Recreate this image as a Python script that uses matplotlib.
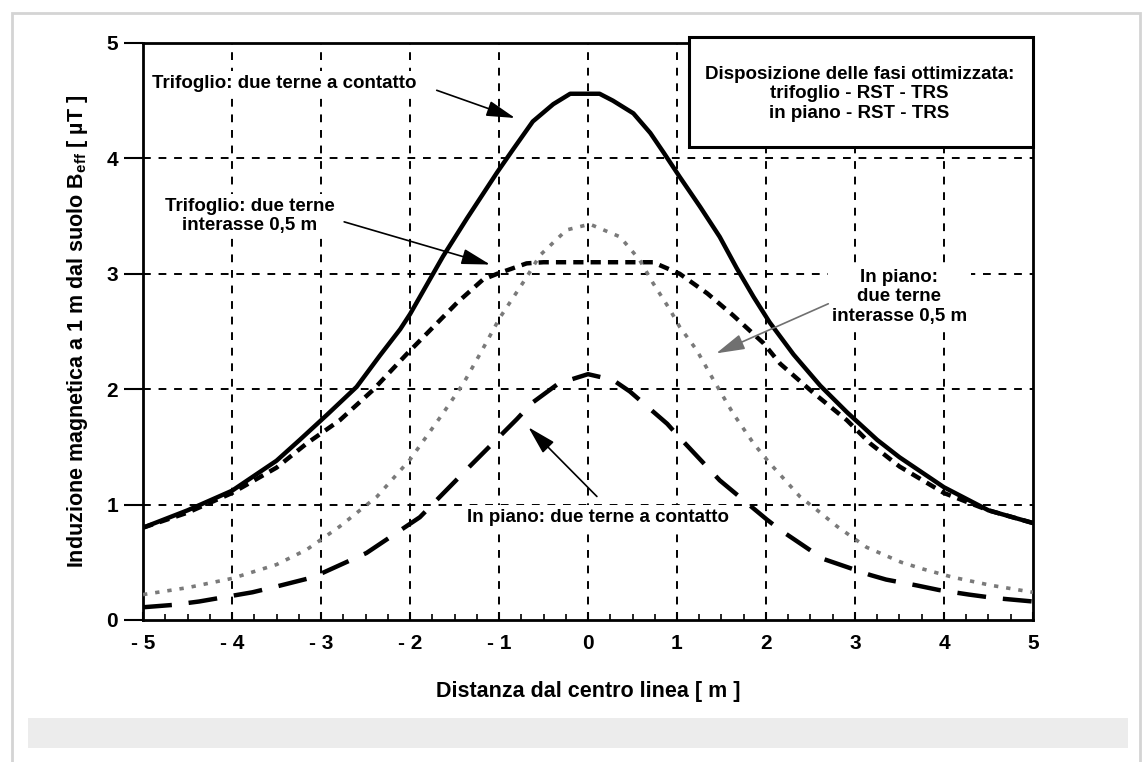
import numpy as np
import matplotlib
matplotlib.use('Agg')
import matplotlib.pyplot as plt
from matplotlib.patches import Rectangle

plt.rcParams['font.family'] = ['Liberation Sans', 'DejaVu Sans']
plt.rcParams['mathtext.fontset'] = 'custom'
plt.rcParams['mathtext.bf'] = 'Liberation Sans:bold'
plt.rcParams['mathtext.rm'] = 'Liberation Sans'

# Trifoglio: due terne a contatto (solid)
x_tri_cont = [-5, -4.5, -4, -3.5, -3.24, -2.93, -2.6, -2.34, -2.11, -2.0, -1.63, -1.36,
              -1.02, -0.84, -0.62, -0.39, -0.2, 0.13, 0.28, 0.51, 0.7, 0.85, 1.03, 1.26,
              1.48, 1.67, 1.86, 2.04, 2.31, 2.61, 2.91, 3.25, 3.5, 4, 4.5, 5]
y_tri_cont = [0.80, 0.95, 1.12, 1.38, 1.56, 1.78, 2.02, 2.29, 2.52, 2.65, 3.15, 3.48,
              3.88, 4.08, 4.32, 4.47, 4.56, 4.56, 4.50, 4.39, 4.22, 4.05, 3.84, 3.58,
              3.32, 3.05, 2.80, 2.58, 2.30, 2.03, 1.80, 1.56, 1.41, 1.15, 0.95, 0.84]

# Trifoglio: due terne interasse 0,5 m (short dashes)
x_tri_int = [-5, -4.5, -4, -3.5, -3.16, -2.79, -2.42, -2.03, -1.47, -1.18, -1.02, -0.91,
             -0.69, -0.5, 0, 0.5, 0.73, 1.03, 1.34, 1.63, 1.97, 2.16, 2.53, 2.91, 3.17,
             3.5, 4, 4.5, 5]
y_tri_int = [0.80, 0.93, 1.10, 1.32, 1.53, 1.73, 1.99, 2.31, 2.75, 2.95, 3.00, 3.03,
             3.09, 3.10, 3.10, 3.10, 3.10, 3.00, 2.83, 2.64, 2.40, 2.22, 1.97, 1.73, 1.53,
             1.33, 1.10, 0.95, 0.84]

# In piano: due terne interasse 0,5 m (grey dotted)
x_pia_int = [-5, -4.5, -4, -3.5, -3.16, -2.79, -2.37, -2.0, -1.63, -1.4, -1.21, -0.99,
             -0.69, -0.54, -0.35, -0.24, 0.02, 0.36, 0.58, 0.73, 0.92, 1.03, 1.22, 1.41,
             1.63, 1.86, 2.04, 2.24, 2.38, 2.61, 2.8, 3.13, 3.52, 3.77, 4.1, 4.53, 5]
y_pia_int = [0.22, 0.28, 0.36, 0.48, 0.61, 0.81, 1.07, 1.39, 1.79, 2.05, 2.31, 2.62,
             2.97, 3.16, 3.30, 3.38, 3.43, 3.32, 3.12, 2.92, 2.69, 2.54, 2.34, 2.08,
             1.79, 1.53, 1.36, 1.19, 1.07, 0.93, 0.81, 0.63, 0.50, 0.44, 0.37, 0.30, 0.24]

# In piano: due terne a contatto (long dashes)
x_pia_cont = [-5, -4.67, -4.37, -4.07, -3.77, -3.5, -3.09, -2.49, -1.89, -1.33, -0.8,
              -0.63, -0.33, 0, 0.28, 0.47, 0.89, 1.03, 1.48, 2.01, 2.16, 2.64, 3.17,
              3.35, 3.69, 3.94, 4.28, 4.57, 5]
y_pia_cont = [0.11, 0.13, 0.16, 0.20, 0.24, 0.29, 0.37, 0.58, 0.89, 1.33, 1.74,
              1.88, 2.05, 2.13, 2.08, 1.98, 1.70, 1.58, 1.21, 0.87, 0.78, 0.53, 0.39,
              0.35, 0.30, 0.26, 0.22, 0.19, 0.16]

x_ticks = [-5, -4, -3, -2, -1, 0, 1, 2, 3, 4, 5]
x_tick_labels = ['- 5', '- 4', '- 3', '- 2', '- 1', '0', '1', '2', '3', '4', '5']
y_ticks = [0, 1, 2, 3, 4, 5]

fig = plt.figure(figsize=(11.48, 7.62), dpi=100)
ax = fig.add_axes([0.1246, 0.1864, 0.7752, 0.7572])

# page decorations
fig.patches.append(Rectangle((12 / 1148, -0.01), 1128 / 1148, 1 - 13 / 762 + 0.01,
                             transform=fig.transFigure, fill=False,
                             edgecolor='#d4d4d4', lw=2, zorder=0))
fig.patches.append(Rectangle((28 / 1148, 1 - 748 / 762), 1100 / 1148, 30 / 762,
                             transform=fig.transFigure, facecolor='#ececec',
                             edgecolor='none', zorder=0))

ax.plot(x_tri_cont, y_tri_cont, color='black', lw=3.2, zorder=4)
ax.plot(x_tri_int, y_tri_int, color='black', lw=3.2, ls=(0, (2.3, 1.6)), zorder=4)
ax.plot(x_pia_int, y_pia_int, color='#7a7a7a', lw=2.6, ls=(0, (1.2, 2.2)), zorder=4)
ax.plot(x_pia_cont, y_pia_cont, color='black', lw=3.2, ls=(0, (6.5, 3.8)), zorder=4)

ax.set_xlim(-5, 5)
ax.set_ylim(0, 5)
ax.set_xticks(x_ticks)
ax.set_xticklabels(x_tick_labels)
ax.set_yticks(y_ticks)
ax.set_xticks(np.arange(-5, 5.01, 0.25), minor=True)
ax.tick_params(axis='x', direction='in', length=6, width=1.5, pad=10,
               labelsize=15)
ax.tick_params(axis='x', which='minor', direction='in', length=4, width=1.2)
ax.tick_params(axis='y', direction='out', length=14, width=1.5, pad=4,
               labelsize=15)
for lab in ax.get_xticklabels() + ax.get_yticklabels():
    lab.set_fontweight('bold')

for s in ax.spines.values():
    s.set_linewidth(2)

for gx in [-4, -3, -2, -1, 0, 1, 2, 3, 4]:
    ax.axvline(gx, color='black', lw=1.4, ls=(0, (4, 4)), zorder=1)
for gy in [1, 2, 3, 4]:
    ax.axhline(gy, color='black', lw=1.4, ls=(0, (4, 4)), zorder=1)

ax.set_xlabel('Distanza dal centro linea [ m ]', fontsize=15.5, fontweight='bold',
              labelpad=20)
ax.set_ylabel(r'Induzione magnetica a 1 m dal suolo B$_{\mathbf{eff}}$ [ µT ]',
              fontsize=15.5, fontweight='bold', labelpad=12)

# legend-like box
ax.add_patch(Rectangle((1.13, 4.10), 3.87, 0.95, facecolor='white',
                       edgecolor='black', lw=2.2, zorder=5, clip_on=False))
ax.text(3.05, 4.56, 'Disposizione delle fasi ottimizzata:\ntrifoglio - RST - TRS\nin piano - RST - TRS',
        ha='center', va='center', fontsize=13.5, fontweight='bold',
        linespacing=1.2, zorder=6)

bb = dict(facecolor='white', edgecolor='none', pad=3)
ann = dict(fontsize=13.5, fontweight='bold', linespacing=1.2, bbox=bb, zorder=3)
ax.text(-4.9, 4.65, 'Trifoglio: due terne a contatto', ha='left', va='center', **ann)
ax.text(-3.8, 3.5, 'Trifoglio: due terne\ninterasse 0,5 m', ha='center', va='center', **ann)
ax.text(3.5, 2.8, 'In piano:\ndue terne\ninterasse 0,5 m', ha='center', va='center', **ann)
ax.text(-1.36, 0.89, 'In piano: due terne a contatto', ha='left', va='center', **ann)

arr = dict(arrowstyle='-|>,head_length=1.1,head_width=0.3', color='black',
           lw=1.2, mutation_scale=16, shrinkA=0, shrinkB=0)
ax.annotate('', xy=(-0.82, 4.35), xytext=(-1.70, 4.59), arrowprops=arr, zorder=6)
ax.annotate('', xy=(-1.10, 3.08), xytext=(-2.74, 3.45), arrowprops=arr, zorder=6)
ax.annotate('', xy=(-0.67, 1.67), xytext=(0.10, 1.07), arrowprops=arr, zorder=6)
arr_g = dict(arr, color='#707070')
ax.annotate('', xy=(1.44, 2.31), xytext=(2.70, 2.74), arrowprops=arr_g, zorder=6)

fig.savefig('out.png', dpi=100)
